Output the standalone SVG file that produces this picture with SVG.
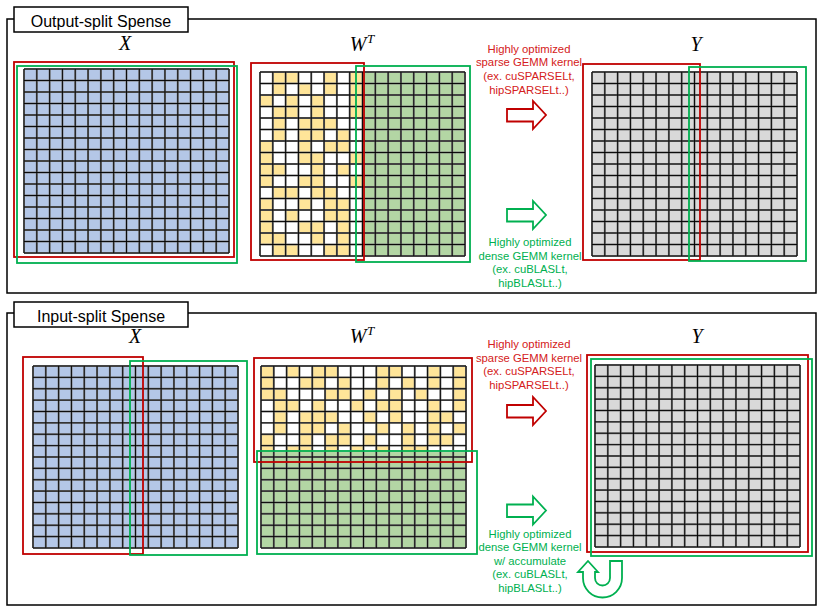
<svg xmlns="http://www.w3.org/2000/svg" xmlns:xlink="http://www.w3.org/1999/xlink" width="823" height="612" viewBox="0 0 823 612">
<style>
.frame{fill:none;stroke:#000;stroke-width:1.5}
.title{fill:#fff;stroke:#000;stroke-width:1.5}
.tt{font-family:"Liberation Sans",Arial,sans-serif;font-size:16px;fill:#000;text-anchor:middle}
.lbl{font-family:"Liberation Serif","DejaVu Serif",serif;font-style:italic;font-size:20px;fill:#000;text-anchor:middle}
.sup{font-family:"Liberation Serif","DejaVu Serif",serif;font-style:italic;font-size:13px;fill:#000}
.rb{fill:none;stroke:#c00000;stroke-width:1.8}
.gb{fill:none;stroke:#00b050;stroke-width:1.8}
.rt{font-family:"Liberation Sans",Arial,sans-serif;font-size:11.3px;fill:#d42020;text-anchor:middle}
.gt{font-family:"Liberation Sans",Arial,sans-serif;font-size:11.3px;fill:#00b050;text-anchor:middle}
.ra{fill:#fff;stroke:#c00000;stroke-width:1.8}
.ga{fill:#fff;stroke:#00b050;stroke-width:1.8}
.blue{fill:#b4c7e7}
.gray{fill:#d9d9d9}
.grn{fill:#b3d6a4}
.wht{fill:#fff}
.yel{fill:#ffe599}
.gl1{fill:none;stroke:#7a7a7a;stroke-width:2}
.gl2{fill:none;stroke:#000;stroke-width:0.9}
</style>
<defs>
<path id="gl" d="M0 0V184M12.81 0V184M25.63 0V184M38.44 0V184M51.25 0V184M64.06 0V184M76.88 0V184M89.69 0V184M102.5 0V184M115.31 0V184M128.13 0V184M140.94 0V184M153.75 0V184M166.56 0V184M179.38 0V184M192.19 0V184M205 0V184M0 0H205M0 11.5H205M0 23H205M0 34.5H205M0 46H205M0 57.5H205M0 69H205M0 80.5H205M0 92H205M0 103.5H205M0 115H205M0 126.5H205M0 138H205M0 149.5H205M0 161H205M0 172.5H205M0 184H205"/>
<g id="grid"><use xlink:href="#gl" class="gl1"/><use xlink:href="#gl" class="gl2"/></g>
<rect id="c" width="12.81" height="11.5" class="yel"/>
</defs>

<g id="panel-output-split">
<rect class="frame" x="7" y="19" width="809" height="274"/>
<rect class="title" x="14" y="7" width="174" height="25"/>
<text class="tt" x="101" y="26.5">Output-split Spense</text>
</g>

<g id="top-X">
<text class="lbl" x="125" y="50">X</text>
<g transform="translate(24,69)">
<rect class="blue" width="205" height="184"/>
<use xlink:href="#grid"/>
</g>
<rect class="rb" x="14" y="62" width="220" height="195"/>
<rect class="gb" x="17" y="66" width="220" height="197"/>
</g>

<g id="top-WT">
<text class="lbl" x="358" y="51">W</text><text class="sup" x="367" y="43">T</text>
<g transform="translate(260,72)">
<rect class="wht" width="102.5" height="184"/>
<rect class="grn" x="102.5" width="102.5" height="184"/>
<use xlink:href="#c" x="12.81" y="0"/><use xlink:href="#c" x="25.63" y="0"/><use xlink:href="#c" x="64.06" y="0"/><use xlink:href="#c" x="89.69" y="0"/>
<use xlink:href="#c" x="12.81" y="11.5"/><use xlink:href="#c" x="38.44" y="11.5"/><use xlink:href="#c" x="64.06" y="11.5"/><use xlink:href="#c" x="89.69" y="11.5"/>
<use xlink:href="#c" x="0" y="23"/><use xlink:href="#c" x="25.63" y="23"/><use xlink:href="#c" x="51.25" y="23"/><use xlink:href="#c" x="89.69" y="23"/>
<use xlink:href="#c" x="12.81" y="34.5"/><use xlink:href="#c" x="25.63" y="34.5"/><use xlink:href="#c" x="51.25" y="34.5"/><use xlink:href="#c" x="89.69" y="34.5"/>
<use xlink:href="#c" x="12.81" y="46"/><use xlink:href="#c" x="38.44" y="46"/><use xlink:href="#c" x="51.25" y="46"/><use xlink:href="#c" x="64.06" y="46"/>
<use xlink:href="#c" x="12.81" y="57.5"/><use xlink:href="#c" x="38.44" y="57.5"/><use xlink:href="#c" x="51.25" y="57.5"/><use xlink:href="#c" x="76.88" y="57.5"/>
<use xlink:href="#c" x="0" y="69"/><use xlink:href="#c" x="38.44" y="69"/><use xlink:href="#c" x="64.06" y="69"/><use xlink:href="#c" x="76.88" y="69"/>
<use xlink:href="#c" x="0" y="80.5"/><use xlink:href="#c" x="38.44" y="80.5"/><use xlink:href="#c" x="51.25" y="80.5"/><use xlink:href="#c" x="89.69" y="80.5"/>
<use xlink:href="#c" x="0" y="92"/><use xlink:href="#c" x="12.81" y="92"/><use xlink:href="#c" x="51.25" y="92"/><use xlink:href="#c" x="76.88" y="92"/>
<use xlink:href="#c" x="0" y="103.5"/><use xlink:href="#c" x="38.44" y="103.5"/><use xlink:href="#c" x="51.25" y="103.5"/><use xlink:href="#c" x="89.69" y="103.5"/>
<use xlink:href="#c" x="12.81" y="115"/><use xlink:href="#c" x="25.63" y="115"/><use xlink:href="#c" x="51.25" y="115"/><use xlink:href="#c" x="64.06" y="115"/>
<use xlink:href="#c" x="0" y="126.5"/><use xlink:href="#c" x="38.44" y="126.5"/><use xlink:href="#c" x="64.06" y="126.5"/><use xlink:href="#c" x="76.88" y="126.5"/>
<use xlink:href="#c" x="0" y="138"/><use xlink:href="#c" x="25.63" y="138"/><use xlink:href="#c" x="64.06" y="138"/><use xlink:href="#c" x="76.88" y="138"/>
<use xlink:href="#c" x="0" y="149.5"/><use xlink:href="#c" x="38.44" y="149.5"/><use xlink:href="#c" x="51.25" y="149.5"/><use xlink:href="#c" x="76.88" y="149.5"/>
<use xlink:href="#c" x="0" y="161"/><use xlink:href="#c" x="12.81" y="161"/><use xlink:href="#c" x="51.25" y="161"/><use xlink:href="#c" x="76.88" y="161"/>
<use xlink:href="#c" x="12.81" y="172.5"/><use xlink:href="#c" x="25.63" y="172.5"/><use xlink:href="#c" x="64.06" y="172.5"/><use xlink:href="#c" x="76.88" y="172.5"/>
<use xlink:href="#grid"/>
</g>
<rect class="rb" x="251" y="63" width="113" height="197"/>
<rect class="gb" x="356" y="66" width="114" height="196"/>
</g>

<g id="top-Y">
<text class="lbl" x="696" y="51">Y</text>
<g transform="translate(592,72)">
<rect class="gray" width="205" height="184"/>
<use xlink:href="#grid"/>
</g>
<rect class="rb" x="583" y="64" width="117" height="196"/>
<rect class="gb" x="689" y="67" width="117" height="194"/>
</g>

<g id="top-sparse-label">
<text class="rt" x="529" y="52.5">Highly optimized</text>
<text class="rt" x="529" y="66.2">sparse GEMM kernel</text>
<text class="rt" x="529" y="79.9">(ex. cuSPARSELt,</text>
<text class="rt" x="529" y="93.6">hipSPARSELt..)</text>
</g>
<g id="top-dense-label">
<text class="gt" x="530" y="246">Highly optimized</text>
<text class="gt" x="530" y="259.7">dense GEMM kernel</text>
<text class="gt" x="530" y="273.4">(ex. cuBLASLt,</text>
<text class="gt" x="530" y="287.1">hipBLASLt..)</text>
</g>

<g id="panel-input-split">
<rect class="frame" x="7" y="313" width="809" height="292"/>
<rect class="title" x="14" y="302" width="174" height="25"/>
<text class="tt" x="101" y="321.5">Input-split Spense</text>
</g>

<g id="bottom-X">
<text class="lbl" x="135" y="343">X</text>
<g transform="translate(33,366) scale(1,0.989)">
<rect class="blue" width="205" height="184"/>
<use xlink:href="#grid"/>
</g>
<rect class="rb" x="23" y="357" width="120" height="197"/>
<rect class="gb" x="130" y="361" width="117" height="194"/>
</g>

<g id="bottom-WT">
<text class="lbl" x="358" y="343">W</text><text class="sup" x="367" y="335">T</text>
<g transform="translate(261,366) scale(1,0.989)">
<rect class="wht" width="205" height="92"/>
<use xlink:href="#c" x="0" y="0"/><use xlink:href="#c" x="25.63" y="0"/><use xlink:href="#c" x="51.25" y="0"/><use xlink:href="#c" x="64.06" y="0"/><use xlink:href="#c" x="115.31" y="0"/><use xlink:href="#c" x="128.13" y="0"/><use xlink:href="#c" x="166.56" y="0"/><use xlink:href="#c" x="192.19" y="0"/>
<use xlink:href="#c" x="0" y="11.5"/><use xlink:href="#c" x="38.44" y="11.5"/><use xlink:href="#c" x="51.25" y="11.5"/><use xlink:href="#c" x="76.88" y="11.5"/><use xlink:href="#c" x="115.31" y="11.5"/><use xlink:href="#c" x="140.94" y="11.5"/><use xlink:href="#c" x="166.56" y="11.5"/><use xlink:href="#c" x="192.19" y="11.5"/>
<use xlink:href="#c" x="0" y="23"/><use xlink:href="#c" x="12.81" y="23"/><use xlink:href="#c" x="64.06" y="23"/><use xlink:href="#c" x="76.88" y="23"/><use xlink:href="#c" x="102.5" y="23"/><use xlink:href="#c" x="128.13" y="23"/><use xlink:href="#c" x="153.75" y="23"/><use xlink:href="#c" x="192.19" y="23"/>
<use xlink:href="#c" x="12.81" y="34.5"/><use xlink:href="#c" x="25.63" y="34.5"/><use xlink:href="#c" x="51.25" y="34.5"/><use xlink:href="#c" x="89.69" y="34.5"/><use xlink:href="#c" x="115.31" y="34.5"/><use xlink:href="#c" x="128.13" y="34.5"/><use xlink:href="#c" x="166.56" y="34.5"/><use xlink:href="#c" x="192.19" y="34.5"/>
<use xlink:href="#c" x="12.81" y="46"/><use xlink:href="#c" x="38.44" y="46"/><use xlink:href="#c" x="51.25" y="46"/><use xlink:href="#c" x="64.06" y="46"/><use xlink:href="#c" x="102.5" y="46"/><use xlink:href="#c" x="128.13" y="46"/><use xlink:href="#c" x="166.56" y="46"/><use xlink:href="#c" x="179.38" y="46"/>
<use xlink:href="#c" x="12.81" y="57.5"/><use xlink:href="#c" x="38.44" y="57.5"/><use xlink:href="#c" x="51.25" y="57.5"/><use xlink:href="#c" x="76.88" y="57.5"/><use xlink:href="#c" x="115.31" y="57.5"/><use xlink:href="#c" x="140.94" y="57.5"/><use xlink:href="#c" x="166.56" y="57.5"/><use xlink:href="#c" x="192.19" y="57.5"/>
<use xlink:href="#c" x="0" y="69"/><use xlink:href="#c" x="38.44" y="69"/><use xlink:href="#c" x="64.06" y="69"/><use xlink:href="#c" x="76.88" y="69"/><use xlink:href="#c" x="102.5" y="69"/><use xlink:href="#c" x="140.94" y="69"/><use xlink:href="#c" x="166.56" y="69"/><use xlink:href="#c" x="179.38" y="69"/>
<use xlink:href="#c" x="0" y="80.5"/><use xlink:href="#c" x="25.63" y="80.5"/><use xlink:href="#c" x="38.44" y="80.5"/><use xlink:href="#c" x="64.06" y="80.5"/><use xlink:href="#c" x="89.69" y="80.5"/><use xlink:href="#c" x="115.31" y="80.5"/><use xlink:href="#c" x="140.94" y="80.5"/><use xlink:href="#c" x="153.75" y="80.5"/>
<rect class="grn" y="87" width="205" height="97"/>
<use xlink:href="#grid"/>
</g>
<rect class="rb" x="254" y="358" width="218" height="104"/>
<rect class="gb" x="257" y="451" width="220" height="103"/>
</g>

<g id="bottom-Y">
<text class="lbl" x="697" y="343">Y</text>
<g transform="translate(595,365) scale(1,0.989)">
<rect class="gray" width="205" height="184"/>
<use xlink:href="#grid"/>
</g>
<rect class="rb" x="587" y="355" width="221" height="197"/>
<rect class="gb" x="591" y="359" width="221" height="197"/>
</g>

<g id="bottom-sparse-label">
<text class="rt" x="529" y="348">Highly optimized</text>
<text class="rt" x="529" y="361.7">sparse GEMM kernel</text>
<text class="rt" x="529" y="375.4">(ex. cuSPARSELt,</text>
<text class="rt" x="529" y="389.1">hipSPARSELt..)</text>
</g>
<g id="bottom-dense-label">
<text class="gt" x="530" y="537.5">Highly optimized</text>
<text class="gt" x="530" y="551">dense GEMM kernel</text>
<text class="gt" x="530" y="564.5">w/ accumulate</text>
<text class="gt" x="530" y="578">(ex. cuBLASLt,</text>
<text class="gt" x="530" y="591.5">hipBLASLt..)</text>
</g>

<g id="connectors">
<path class="ra" d="M507 109H533V101L546 115L533 129V121.5H507Z"/>
<path class="ga" d="M507 209H533V201L546 215L533 229V221.5H507Z"/>
<path class="ra" d="M507 405H533V397L546 411L533 425V417.5H507Z"/>
<path class="ga" d="M507 504.5H533V496.5L546 510.5L533 524.5V517H507Z"/>
<path class="ga" d="M588 561L598 572H595V578A7.5 7.5 0 0 0 610 578V561H622V578A19.5 19.5 0 0 1 583 578V572H578Z"/>
</g>
</svg>
